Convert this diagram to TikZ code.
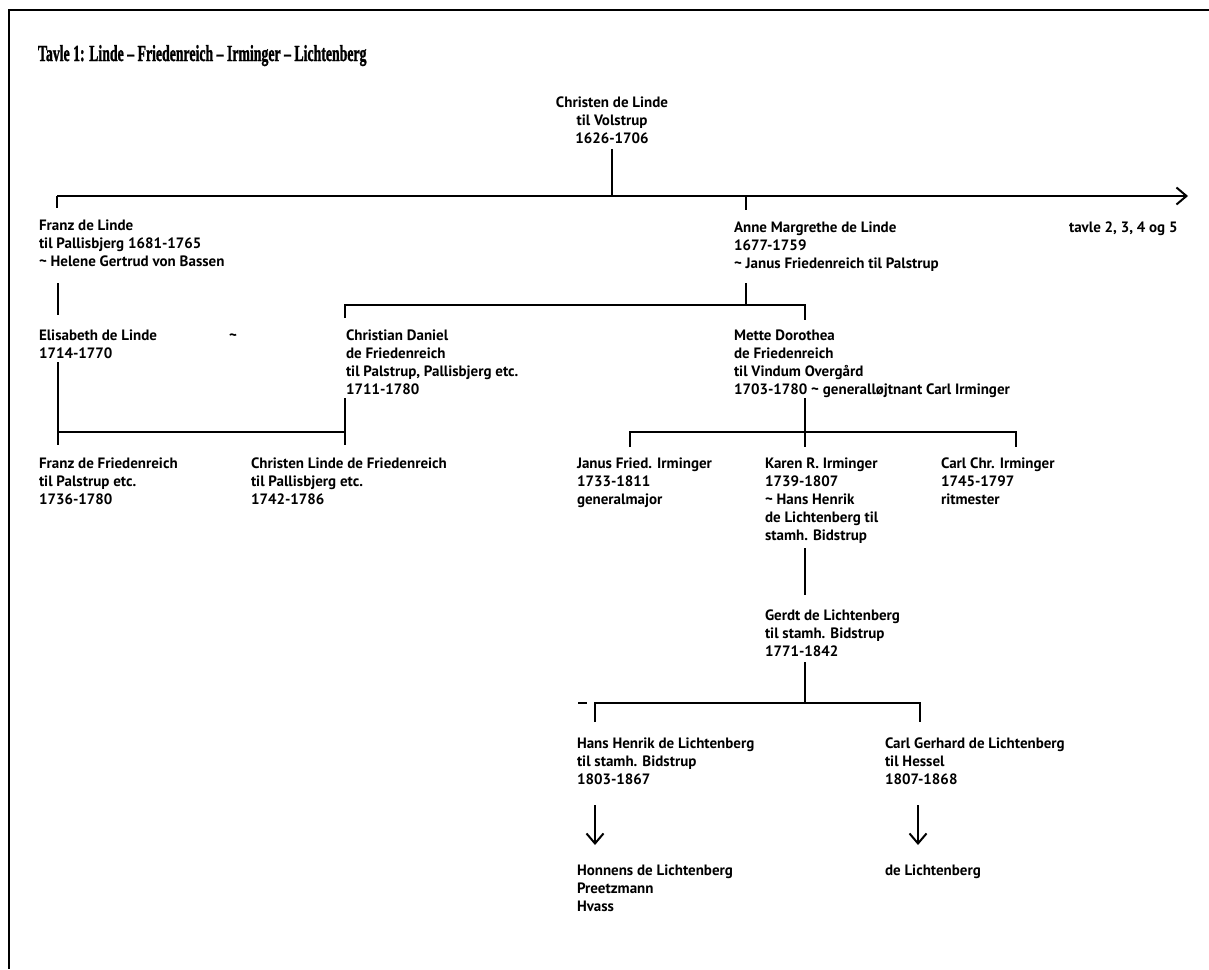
\documentclass[tikz,border=0pt]{standalone}
\usepackage{fontspec}
\usepackage{graphicx}
\setmainfont{PT Sans}
\newfontfamily\titlefont{Liberation Serif}[BoldFont={Liberation Serif Bold}, BoldFeatures={FakeBold=1.6}]
\usetikzlibrary{arrows.meta}
\begin{document}
\begin{tikzpicture}[x=1pt,y=-1pt,
  line width=2pt,
  person/.style={anchor=north west, inner sep=0pt, align=left, font=\bfseries\fontsize{15}{18}\selectfont},
  link/.style={line width=2pt},
  frame/.style={line width=2.5pt},
  openhead/.style={-{Straight Barb[length=10pt,width=17pt,line width=2pt]}}]
\useasboundingbox (0,0) rectangle (1209,969);
% frame
\coordinate (fTL) at (9,10);
\coordinate (fTR) at (1209,10);
\coordinate (fBL) at (9,969);
\draw[frame] (fTR) -- (fTL) -- (fBL);
% title
\node[anchor=base west, inner sep=0pt, font=\titlefont\bfseries\fontsize{23}{27}\selectfont] (title) at (37,61) {\scalebox{0.6}[1]{Tavle 1: Linde – Friedenreich – Irminger – Lichtenberg}};
% people
\node[person, anchor=north, align=center] (christen) at (612,96) {Christen de Linde\\til Volstrup\\1626-1706};
\node[person] (franz) at (38,219) {Franz de Linde\\til Pallisbjerg 1681-1765\\\textasciitilde{} Helene Gertrud von Bassen};
\node[person] (anne) at (733,221) {Anne Margrethe de Linde\\1677-1759\\\textasciitilde{} Janus Friedenreich til Palstrup};
\node[person] (tavle) at (1068,221) {tavle 2, 3, 4 og 5};
\node[person] (elis) at (38,329) {Elisabeth de Linde\\1714-1770};
\node[person] (tilde) at (228,329) {\vphantom{E}\textasciitilde};
\node[person] (chrd) at (345,329) {Christian Daniel\\de Friedenreich\\til Palstrup, Pallisbjerg etc.\\1711-1780};
\node[person] (mette) at (733,329) {Mette Dorothea\\de Friedenreich\\til Vindum Overgård\\1703-1780 \textasciitilde{} generalløjtnant Carl Irminger};
\node[person] (franzf) at (38,457) {Franz de Friedenreich\\til Palstrup etc.\\1736-1780};
\node[person] (christenl) at (250,457) {Christen Linde de Friedenreich\\til Pallisbjerg etc.\\1742-1786};
\node[person] (janus) at (576,457) {Janus Fried. Irminger\\1733-1811\\generalmajor};
\node[person] (karen) at (764,457) {Karen R. Irminger\\1739-1807\\\textasciitilde{} Hans Henrik\\de Lichtenberg til\\stamh. Bidstrup};
\node[person] (carl) at (940,457) {Carl Chr. Irminger\\1745-1797\\ritmester};
\node[person] (gerdt) at (764,609) {Gerdt de Lichtenberg\\til stamh. Bidstrup\\1771-1842};
\node[person] (hans) at (576,737) {Hans Henrik de Lichtenberg\\til stamh. Bidstrup\\1803-1867};
\node[person] (carlg) at (884,737) {Carl Gerhard de Lichtenberg\\til Hessel\\1807-1868};
\node[person] (honnens) at (576,864) {Honnens de Lichtenberg\\Preetzmann\\Hvass};
\node[person] (delicht) at (884,864) {de Lichtenberg};
% junction coordinates
\coordinate (m0) at (612,196);
\coordinate (mL) at (57,196);
\coordinate (mR) at (1188,196);
\coordinate (mA) at (746,196);
% generation 1
\draw[link] (christen.south) ++(0,4) -- (m0);
\draw[link, openhead] (mL) -- (mR);
\draw[link] (mL) -- ++(0,12);
\draw[link] (mA) -- ++(0,14);
% Franz -> Elisabeth
\draw[link] (58,283) -- (58,315);
% Anne -> children
\coordinate (aB) at (746,305);
\draw[link] (746,283) -- (aB);
\draw[link] (345,318) -- (345,305) -- (805,305) -- (805,320);
% Elisabeth ~ Christian Daniel -> children
\coordinate (eB) at (58,432);
\coordinate (cB) at (345,432);
\draw[link] (58,362) -- (58,445);
\draw[link] (345,398) -- (345,445);
\draw[link] (eB) -- (cB);
% Mette -> children
\draw[link] (805,398) -- (805,447);
\draw[link] (630,447) -- (630,432) -- (1016,432) -- (1016,447);
% Karen -> Gerdt
\draw[link] (805,548) -- (805,595);
% Gerdt -> children
\draw[link] (805,662) -- (805,703);
\draw[link] (595,722) -- (595,703) -- (920,703) -- (920,722);
\draw[line width=1.5pt] (578,703) -- (587,703);
% descendants arrows
\draw[link, openhead] (595,805) -- (595,845);
\draw[link, openhead] (918,805) -- (918,845);
\end{tikzpicture}
\end{document}
